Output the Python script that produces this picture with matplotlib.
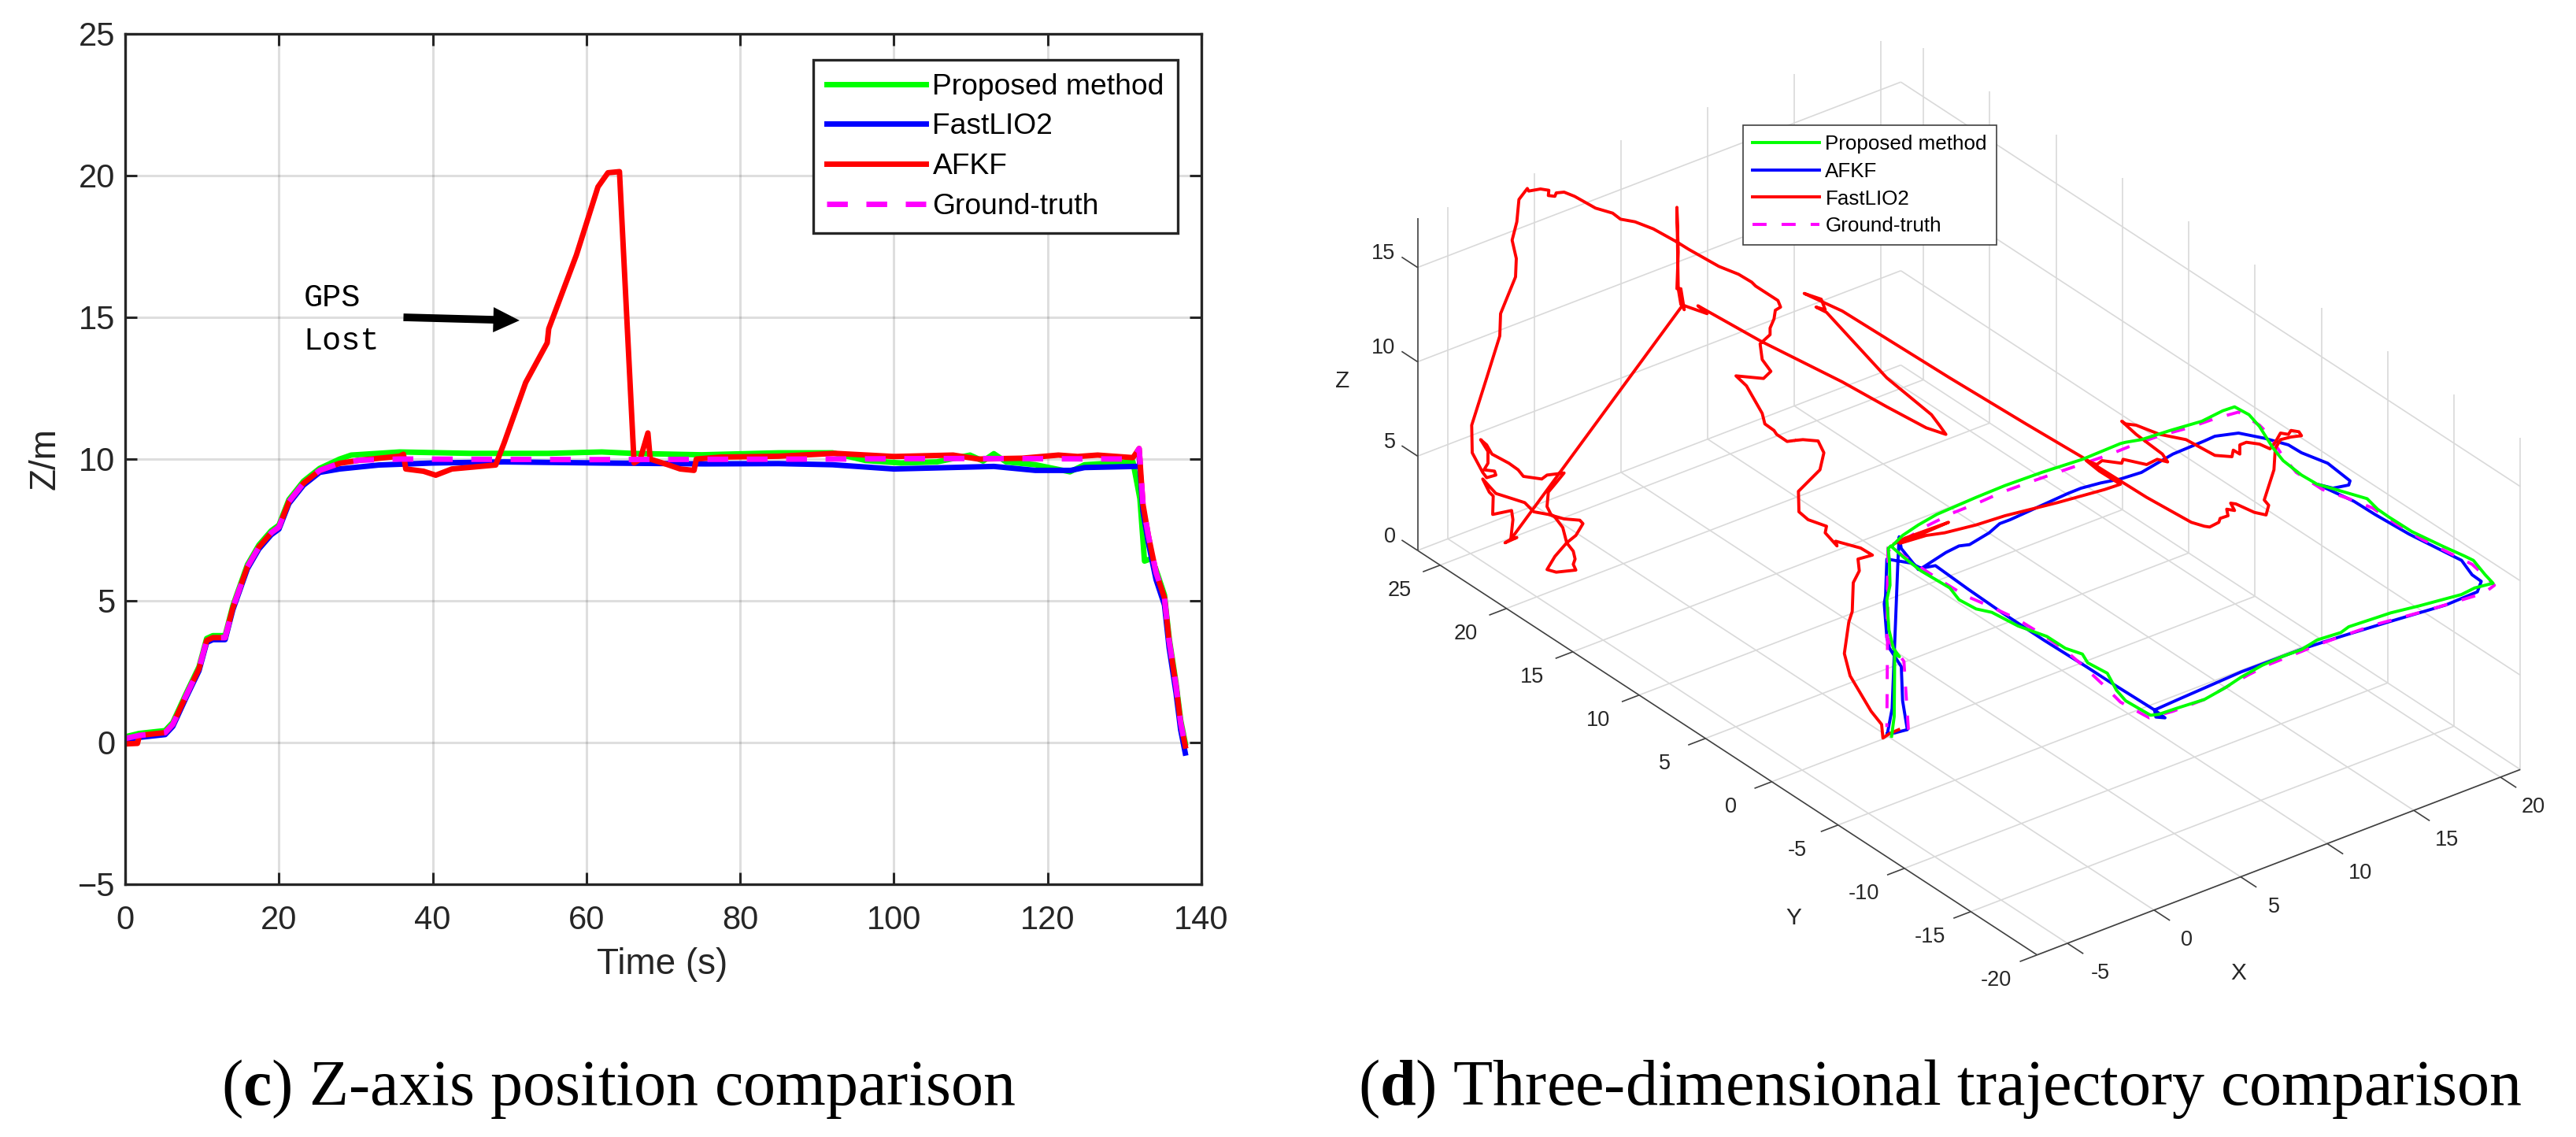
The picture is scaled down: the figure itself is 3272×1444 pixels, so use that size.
import numpy as np
import matplotlib
matplotlib.use("Agg")
import matplotlib.pyplot as plt

plt.rcParams['font.family'] = ['Liberation Sans', 'DejaVu Sans']
plt.rcParams['mathtext.fontset'] = 'custom'
plt.rcParams['mathtext.bf'] = 'Liberation Serif:bold'
plt.rcParams['mathtext.rm'] = 'Liberation Serif'

# ---------- panel (c): Z position over time ----------
rise_t = [1.8, 5.2, 6.2, 8, 9.6, 10.6, 11.4, 13, 14, 15.9, 17.4, 19, 20, 21.3, 23.2, 25.3]
rise_z = [0.25, 0.35, 0.64, 1.7, 2.6, 3.6, 3.7, 3.7, 4.75, 6.2, 6.9, 7.4, 7.6, 8.5, 9.15, 9.6]
fall_t = [131.9, 132.4, 133.1, 134.1, 135.2, 135.8, 136.7, 137.3, 137.9]
fall_z = [10.37, 8.4, 7.3, 6.0, 5.1, 3.6, 2.0, 0.7, -0.12]

green_t = [27.9, 29.4, 35.7, 45, 55, 62, 66, 75, 85, 92, 96.3, 100.9, 105.6, 109.9, 111.6, 113, 114.6, 118.4, 122.9, 124.8, 131.1, 132, 132.6, 133.1]
green_z = [10.0, 10.14, 10.25, 10.2, 10.2, 10.25, 10.2, 10.15, 10.22, 10.22, 9.95, 9.86, 9.9, 10.14, 9.93, 10.19, 9.9, 9.8, 9.55, 9.8, 9.9, 8.6, 6.4, 6.45]
blue_t = [27.9, 33, 39.9, 49.3, 62, 75.4, 85, 92, 100, 113, 118.4, 123, 124.8, 131.4]
blue_z = [9.65, 9.79, 9.86, 9.9, 9.86, 9.83, 9.84, 9.8, 9.65, 9.74, 9.6, 9.6, 9.7, 9.74]
red_start_t = [0, 1.6, 1.8]
red_start_z = [-0.05, -0.03, 0.2]
red_t = [27.9, 30.5, 35.7, 36.2, 36.5, 38.8, 40.4, 42.5, 48.2, 49.3, 52.1, 54.9, 55.1, 58.7, 61.5, 62.8, 64.3, 66.2, 67, 68, 68.3, 70.7, 72.2, 74, 74.3, 77.5, 85, 92.4, 100, 107.7, 111, 116.7, 121.4, 123.9, 126.5, 131.1]
red_z = [9.85, 9.96, 10.1, 10.17, 9.65, 9.57, 9.43, 9.65, 9.79, 10.57, 12.7, 14.1, 14.6, 17.2, 19.6, 20.1, 20.14, 9.86, 10.0, 10.92, 10.0, 9.79, 9.65, 9.6, 10.0, 10.07, 10.1, 10.2, 10.09, 10.14, 10.0, 10.03, 10.14, 10.09, 10.14, 10.05]
truth_start_t = [0]
truth_start_z = [0.14]
truth_t = [27.9, 30.5, 35.7, 60, 90, 110, 131.1]
truth_z = [9.85, 9.96, 10.0, 9.98, 10.0, 10.02, 10.0]

panel_c_names = ['Proposed method', 'FastLIO2', 'AFKF', 'Ground-truth']
time_ticks = [0, 20, 40, 60, 80, 100, 120, 140]
z_ticks = [-5, 0, 5, 10, 15, 20, 25]

# ---------- panel (d): view-plane traces, per zoom frame ----------
FRAME_W = (1820, 220)
FRAME_M = (2280, 480)
FRAME_E = (2700, 490)

red_foot = [(395,1340),(360,1355),(335,1372),(330,1320),(290,1270),(210,1135),(188,1050),(205,930),(218,890),(222,780),(245,735),(240,690),(295,675),(250,648),(155,622),(160,640),(115,590),(120,565),(50,540),(15,510),(13,432),(95,350),(110,285),(88,240),(30,235),(0,238)]
red_west = [(1380,1018),(1350,1022),(1310,995),(1300,980),(1265,955),(1255,915),(1195,810),(1155,772),(1260,782),(1288,755),(1255,710),(1247,650),(1285,615),(1285,590),(1300,555),(1305,522),(1325,510),(1315,485),(1230,430),(1215,415),(1165,385),(1090,355),(975,290),(930,262),(840,212),(770,185),(715,175),(685,152),(620,133),(540,88),(500,72),(470,75),(465,88),(440,85),(442,65),(410,60),(365,68),(360,58),(328,100),(320,185),(302,255),(318,325),(315,395),(258,535),(255,620),(205,780),(148,960),(150,1065),(190,1140),(205,1160),(240,1150),(235,1135),(195,1130),(210,1105),(210,1060),(182,1015),(205,1035),(225,1070),(290,1105),(325,1130),(345,1155),(415,1165),(435,1150),(500,1142),(465,1185),(440,1215),(435,1270),(450,1300),(465,1310),(495,1350),(510,1408),(535,1440),(542,1470),(535,1490),(545,1512),(470,1520),(435,1510),(465,1460),(510,1408),(545,1380),(572,1335),(560,1322),(500,1317),(440,1300),(385,1290),(350,1255),(240,1220),(190,1165),(215,1215),(230,1230),(228,1300),(300,1285),(305,1320),(297,1395),(275,1408),(320,1388),(297,1395),(950,505),(958,520),(945,440),(930,440),(935,300),(930,130),(935,440),(945,500),(1045,535),(1010,505),(1250,640),(1450,740),(1560,795)]
red_mid1 = [(180,15),(350,110),(500,190),(575,215),(550,180),(520,140),(350,0)]
red_west2 = [(1560,595),(1500,530),(1460,510),(1495,520),(1480,480),(1415,458),(1560,525)]
red_mid2 = [(590,0),(880,175),(1100,305),(1340,455),(1510,550),(1560,565)]
red_east = [(320,538),(355,520),(360,505),(390,495),(385,470),(415,475),(400,447),(420,450),(490,482),(535,492),(545,455),(528,435),(565,320),(570,240),(590,205),(630,195),(670,190),(660,175),(630,170),(620,185),(590,180),(570,215),(550,240),(510,222),(460,215),(435,225),(435,260),(410,245),(405,270),(340,265),(230,205),(130,185),(40,150),(0,145)]
red_mid3 = [(1245,165),(1300,215),(1400,290),(1420,320),(1380,310),(1340,330),(1250,310),(1245,325),(1170,315),(1150,330),(1110,315),(1160,355),(1240,405),(1180,425),(1000,475),(800,525),(690,560),(570,590),(500,600),(400,630),(585,550),(420,610),(378,632)]

green_mid1 = [(368,1365),(378,1290),(380,1050),(398,1062),(375,1030),(358,960),(350,845),(362,790),(360,700),(355,650),(365,640),(410,680),(480,735),(590,800),(625,845),(690,880),(750,893),(850,945),(960,985),(1030,1030),(1095,1052),(1115,1085),(1190,1125),(1225,1190),(1260,1230),(1320,1265),(1355,1285),(1385,1282),(1450,1260),(1560,1225)]
green_east = [(380,1150),(440,1110),(520,1065),(600,1030),(670,1005),(730,968),(820,940),(850,918),(950,885),(1010,865),(1120,838),(1280,795),(1330,770),(1400,752),(1370,720),(1325,665),(1290,648),(1210,612),(1090,555),(1000,498),(960,470),(920,430),(790,392),(730,375),(670,340),(600,285),(560,235),(510,155),(470,110),(415,80),(370,95),(290,135),(170,170),(60,205),(0,215)]
green_mid2 = [(1240,250),(1095,310),(940,360),(800,410),(690,455),(540,520),(470,560),(410,600),(375,635)]

blue_mid1 = [(352,1355),(370,1260),(385,880),(392,700),(397,605),(405,650),(470,730),(490,720),(575,665),(625,640),(665,635),(740,590),(780,555),(820,540),(930,490),(1040,440),(1090,420),(1165,400),(1240,385),(1320,360),(1440,290),(1560,240)]
blue_east = [(340,192),(430,180),(530,200),(620,225),(670,255),(770,295),(855,362),(850,378),(790,390),(730,375),(870,440),(950,490),(1080,565),(1200,625),(1280,665),(1320,720),(1355,745),(1340,785),(1220,835),(1000,900),(820,955),(680,1000),(440,1090),(200,1195),(110,1235),(150,1265),(115,1262)]
blue_mid2 = [(1370,1265),(1210,1165),(1110,1100),(950,1000),(790,895),(660,805),(535,715),(480,725),(440,705),(350,690),(345,830),(340,860),(350,990),(360,1030),(405,1100),(410,1230),(428,1340),(380,1352),(352,1355)]

truth_mid1 = [(432,1340),(415,1080),(350,990),(352,770),(355,630),(360,640),(430,690),(560,775),(650,830),(720,860),(840,915),(930,970),(1020,1030),(1090,1090),(1170,1165),(1240,1235),(1350,1295),(1440,1270),(1560,1225)]
truth_east = [(370,1155),(470,1100),(550,1060),(650,1020),(750,980),(850,945),(950,910),(1060,880),(1150,855),(1250,825),(1365,790),(1405,760),(1380,735),(1320,680),(1290,665),(1210,625),(1130,585),(1030,525),(940,465),(850,430),(750,395),(650,330),(600,270),(545,185),(510,150),(430,100),(340,125),(240,160),(130,190),(30,225)]
truth_mid2 = [(1190,295),(1000,360),(900,395),(790,435),(700,475),(600,515),(500,565),(420,615),(375,640),(355,660),(352,1060),(350,1330)]

panel_d_names = ['Proposed method', 'AFKF', 'FastLIO2', 'Ground-truth']
x3_ticks = [-5, 0, 5, 10, 15, 20]
y3_ticks = [-20, -15, -10, -5, 0, 5, 10, 15, 20, 25]
z3_ticks = [0, 5, 10, 15]
x3_lim = (-6.75, 21.15)
y3_lim = (-20, 26.7)
z3_max = 17.6


def stitch(*parts):
    uu, vv = [], []
    for frame, pts in parts:
        a = np.array(pts, float)
        uu.append(frame[0] + a[:, 0] / 3)
        vv.append(frame[1] + a[:, 1] / 3)
    return np.concatenate(uu), np.concatenate(vv)


def project(x, y, z):
    """Orthographic view used by the 3-D panel, in figure pixels."""
    return (2399 + 22.0 * x - 16.85 * y,
            935.8 - 8.44 * x - 11.0 * y - 23.96 * z)


W, H = 3273, 1444
fig = plt.figure(figsize=(W / 100, H / 100), dpi=100, facecolor='white')
DARK = '#262626'

# ---------- left axes ----------
L, R, T, B = 159, 1526, 43, 1123
ax = fig.add_axes([L / W, 1 - B / H, (R - L) / W, (B - T) / H])
ax.set_xlim(0, 140)
ax.set_ylim(-5, 25)
ax.set_xticks(time_ticks)
ax.set_yticks(z_ticks)
ax.grid(True, color=DARK, alpha=0.15, lw=2.2)
ax.set_axisbelow(True)
ax.tick_params(direction='in', length=10.8, width=2.2, top=True, right=True,
               labelsize=30, colors=DARK)
ax.tick_params(axis='x', pad=19)
ax.tick_params(axis='y', pad=9)
for s in ax.spines.values():
    s.set_linewidth(2.4)
    s.set_color(DARK)

LW = 5.0
ax.plot([0] + rise_t + green_t, [0.2] + [v + 0.07 for v in rise_z] + green_z,
        color='#00ff00', lw=LW, label=panel_c_names[0])
ax.plot([0] + rise_t + blue_t, [0.1] + [v - 0.07 for v in rise_z] + blue_z,
        color='#0000ff', lw=LW, label=panel_c_names[1])
# blue and green also finish along the shared descent, just off the red line
ax.plot(fall_t, [v - 0.25 for v in fall_z], color='#0000ff', lw=LW)
ax.plot(fall_t[3:], [v + 0.1 for v in fall_z[3:]], color='#00ff00', lw=LW)
ax.plot(red_start_t + rise_t + red_t + fall_t, red_start_z + rise_z + red_z + fall_z,
        color='#ff0000', lw=LW, label=panel_c_names[2])
ax.plot(truth_start_t + rise_t + truth_t + fall_t, truth_start_z + rise_z + truth_z + fall_z,
        color='#ff00ff', lw=LW, dashes=(3.8, 3.4), label=panel_c_names[3])

handles, labels = ax.get_legend_handles_labels()
leg = ax.legend(handles, labels, loc='upper left',
                bbox_to_anchor=((1033 - L) / (R - L), 1 - (76 - T) / (B - T)),
                borderaxespad=0, fontsize=26.8, handlelength=3.4, handletextpad=0.22,
                labelspacing=0.42, borderpad=0.45, fancybox=False, framealpha=1,
                edgecolor=DARK)
leg.get_frame().set_linewidth(2.4)
ax.set_xlabel('Time (s)', fontsize=33, color=DARK, va='center')
ax.set_ylabel('Z/m', fontsize=33, color=DARK, va='center')
ax.xaxis.set_label_coords(0.499, -0.0944)
ax.yaxis.set_label_coords(-0.0739, 0.5)

ax.annotate('', xy=(51.3, 14.89), xytext=(36.2, 15.0),
            arrowprops=dict(arrowstyle='simple,head_length=24,head_width=23,tail_width=7',
                            mutation_scale=1, color='black', shrinkA=0, shrinkB=0, lw=0))
ax.text(23.2, 15.38, 'GPS', family='Liberation Mono', fontsize=29, va='baseline', color='black')
ax.text(23.2, 13.86, 'Lost', family='Liberation Mono', fontsize=29, va='baseline', color='black')

# ---------- right "3-D" panel ----------
ov = fig.add_axes([0, 0, 1, 1], facecolor='none')
ov.set_xlim(0, W)
ov.set_ylim(H, 0)
ov.axis('off')

GRID = dict(color='#d9d9d9', lw=1.2, zorder=1, solid_capstyle='butt')
AXC = dict(color='#404040', lw=1.2, zorder=2, solid_capstyle='butt')
xa, xb = x3_lim
ya, yb = y3_lim


def seg(p0, p1, **kw):
    a = project(*p0)
    b = project(*p1)
    ov.plot([a[0], b[0]], [a[1], b[1]], **kw)


for x in x3_ticks:
    seg((x, ya, 0), (x, yb, 0), **GRID)
    seg((x, yb, 0), (x, yb, z3_max), **GRID)
for y in y3_ticks:
    seg((xa, y, 0), (xb, y, 0), **GRID)
    seg((xb, y, 0), (xb, y, z3_max), **GRID)
for z in z3_ticks:
    seg((xa, yb, z), (xb, yb, z), **GRID)
    seg((xb, yb, z), (xb, ya, z), **GRID)

seg((xa, yb, 0), (xa, yb, z3_max), **AXC)
seg((xa, yb, 0), (xa, ya, 0), **AXC)
seg((xa, ya, 0), (xb, ya, 0), **AXC)

TXT3 = dict(fontsize=19.5, color=DARK, ha='center', va='center')
for x in x3_ticks:
    seg((x, ya, 0), (x, ya - 1.2, 0), **AXC)
    u, v = project(x, ya, 0)
    ov.text(u + 42, v + 38, str(x), **TXT3)
for y in y3_ticks:
    seg((xa, y, 0), (xa - 1.0, y, 0), **AXC)
    u, v = project(xa, y, 0)
    ov.text(u - 52, v + 32, str(y), **TXT3)
for z in z3_ticks:
    seg((xa, yb, z), (xa, yb + 1.2, z), **AXC)
    u, v = project(xa, yb, z)
    ov.text(u - 28, v - 17.5, str(z), fontsize=19.5, color=DARK, ha='right', va='center')
ov.text(2843, 1236, 'X', fontsize=21.5, color=DARK, ha='center', va='center')
ov.text(2278, 1166, 'Y', fontsize=21.5, color=DARK, ha='center', va='center')
ov.text(1705, 484, 'Z', fontsize=21.5, color=DARK, ha='center', va='center')

ru, rv = stitch((FRAME_M, red_foot), (FRAME_W, red_west), (FRAME_M, red_mid1), (FRAME_W, red_west2),
                (FRAME_M, red_mid2), (FRAME_E, red_east), (FRAME_M, red_mid3))
gu, gv = stitch((FRAME_M, green_mid1), (FRAME_E, green_east), (FRAME_M, green_mid2))
bu, bv = stitch((FRAME_M, blue_mid1), (FRAME_E, blue_east), (FRAME_M, blue_mid2))
tu, tv = stitch((FRAME_M, truth_mid1), (FRAME_E, truth_east), (FRAME_M, truth_mid2))

LW3 = 2.8
l_b, = ov.plot(bu, bv, color='#0000ff', lw=LW3, zorder=3, solid_joinstyle='round')
l_t, = ov.plot(tu, tv, color='#ff00ff', lw=LW3, zorder=4, dashes=(4.6, 4.9))
l_r, = ov.plot(ru, rv, color='#ff0000', lw=LW3, zorder=5, solid_joinstyle='round')
l_g, = ov.plot(gu, gv, color='#00ff00', lw=LW3, zorder=6, solid_joinstyle='round')

leg3 = ov.legend([l_g, l_b, l_r, l_t], panel_d_names, loc='upper left',
                 bbox_to_anchor=(2214 / W, 1 - 159 / H), borderaxespad=0, fontsize=18.7,
                 handlelength=3.3, handletextpad=0.27, labelspacing=0.42, borderpad=0.45,
                 fancybox=False, framealpha=1, edgecolor='#404040')
leg3.get_frame().set_linewidth(1.2)
leg3.set_zorder(10)

# ---------- captions ----------
ov.text(281, 1403, r'($\mathbf{c}$) Z-axis position comparison', family='Liberation Serif',
        fontsize=59, color='black', ha='left', va='baseline')
ov.text(1725, 1403, r'($\mathbf{d}$) Three-dimensional trajectory comparison', family='Liberation Serif',
        fontsize=59, color='black', ha='left', va='baseline')

fig.savefig('out.png', dpi=100, facecolor='white')
